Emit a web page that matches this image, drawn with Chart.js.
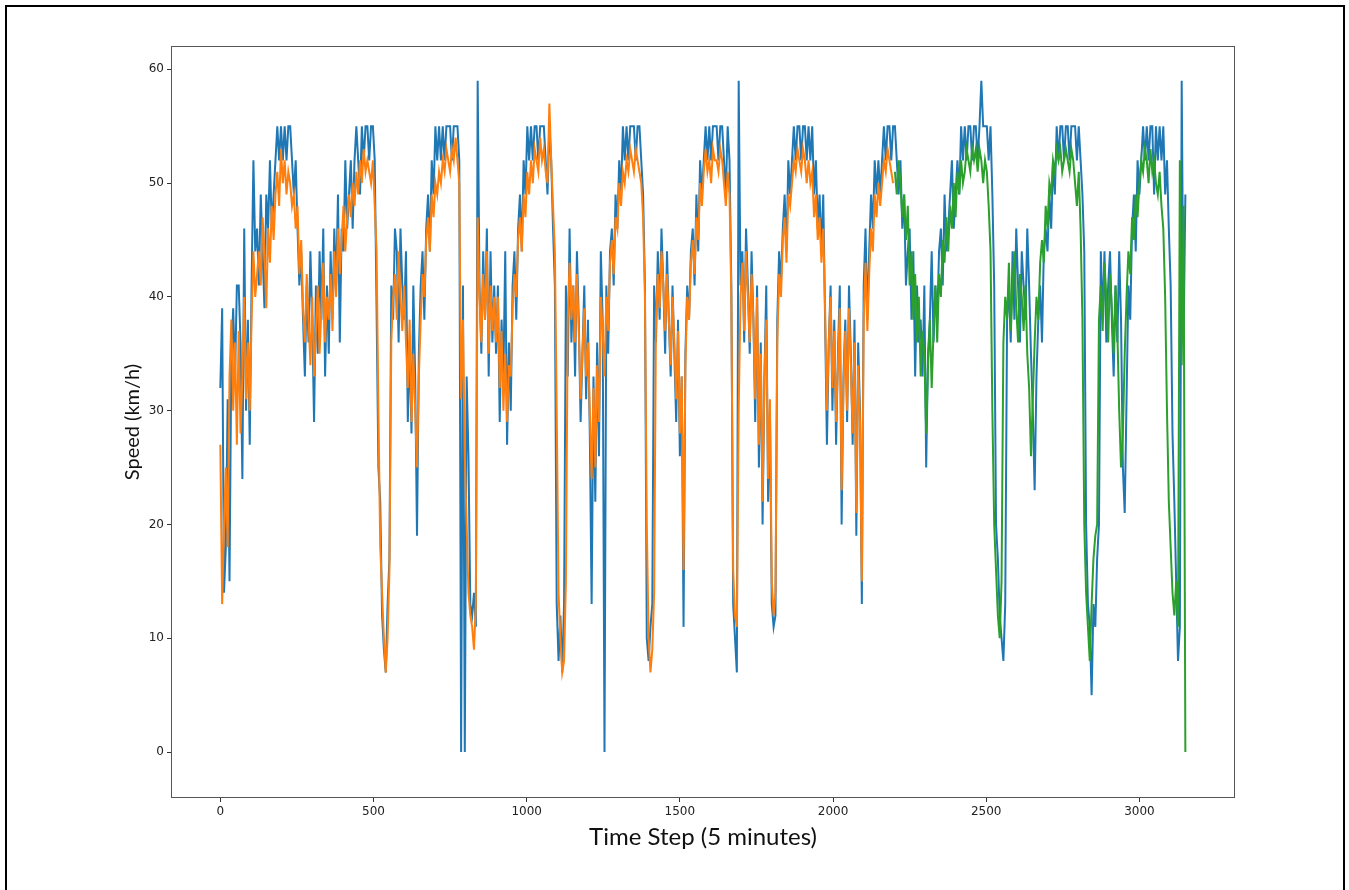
<!DOCTYPE html>
<html><head><meta charset="utf-8">
<script src="https://cdn.jsdelivr.net/npm/chart.js@4/dist/chart.umd.min.js"></script>
<style>
html,body{margin:0;padding:0;background:#fff;overflow:hidden;}
#wrap{position:relative;width:1349px;height:890px;}
#frame{position:absolute;left:5px;top:5px;width:1340px;height:900px;border:2px solid #000;box-sizing:border-box;}
canvas{position:absolute;left:0;top:0;}
</style></head><body>
<div id="wrap"><div id="frame"></div><canvas id="c" width="1349" height="890"></canvas></div>
<script>
// sampling interval (time steps) and start step of each series
const STEP = 6;
const BLUE_START = 0, ORANGE_START = 0, GREEN_START = 2202;

// observed speed (km/h), one value per STEP time steps
const blueSpeed = [
32,39,14,18,31,15,35,39,33,41, 41,36,24,46,30,38,27,41,52,44, 46,41,49,44,39,49,46,52,46,49,
52,55,52,55,52,55,52,55,55,52, 49,52,46,41,44,38,33,41,36,44, 38,29,41,35,44,38,46,33,41,35,
44,38,46,41,49,36,46,44,52,46, 49,52,46,52,55,52,49,55,52,55, 55,52,55,55,52,39,25,22,12,9,
7,13,17,41,38,46,44,36,46,41, 38,44,29,36,28,41,33,19,35,41, 44,38,46,49,44,52,49,55,52,55,
52,55,52,55,55,55,52,55,55,55, 52,0,41,0,33,26,13,12,14,11, 59,41,35,44,38,46,33,44,36,41,
35,41,29,38,33,44,27,36,30,41, 44,38,46,49,44,52,49,55,52,55, 52,55,55,52,55,55,55,52,49,55,
52,46,41,13,8,12,7,13,41,33, 46,36,41,33,44,38,29,35,41,31, 38,28,13,33,22,36,26,44,38,0,
41,35,44,46,41,49,46,52,49,55, 52,55,52,55,55,55,52,55,55,52, 49,41,10,8,11,13,41,36,44,38,
46,41,35,44,38,33,41,35,29,38, 26,33,11,35,41,38,44,46,41,49, 44,52,49,52,55,52,55,52,55,55,
55,52,55,55,52,49,55,52,41,13, 10,7,59,41,44,36,46,41,35,44, 38,29,41,25,36,20,33,41,22,30,
13,11,12,38,44,41,46,49,44,52, 49,52,55,52,55,55,52,55,55,52, 55,52,55,49,52,46,49,44,49,38,
27,36,41,30,38,27,35,41,20,33, 38,29,41,35,27,38,19,36,30,13, 41,46,38,44,49,46,52,49,52,49,
52,55,52,55,55,52,55,55,52,49, 52,46,49,41,44,46,38,44,33,41, 36,38,33,41,25,35,38,44,36,41,
38,44,46,41,49,44,46,49,52,46, 49,52,49,55,52,55,52,55,55,52, 55,55,52,55,59,55,55,55,52,55,
49,41,20,17,12,10,8,13,38,41, 36,44,38,46,41,36,44,41,38,46, 41,35,30,23,33,38,41,36,44,46,
44,49,46,52,49,55,52,55,55,52, 55,55,52,55,55,55,52,55,52,49, 44,20,13,11,5,13,11,17,20,44,
38,44,36,41,44,38,33,41,36,44, 38,25,21,31,41,38,46,49,44,52, 49,52,55,52,55,52,55,55,49,55,
52,55,52,55,49,52,46,41,28,22, 15,8,11,59,36,49
];

// prediction on the training period
const orangeSpeed = [
27,13,20,25,18,33,38,30,36,27, 37,28,33,40,31,36,30,38,44,40, 42,44,41,47,44,39,46,43,48,45,
49,51,48,53,50,52,49,51,50,48, 49,46,48,42,45,39,36,42,38,34, 40,33,37,41,35,39,43,36,40,38,
42,37,44,40,46,42,45,48,44,47, 49,47,50,48,51,49,52,50,53,51, 52,51,50,52,48,44,30,18,14,10,
7,10,16,36,40,42,38,44,40,37, 41,36,32,38,29,35,30,25,33,38, 42,40,45,47,44,49,47,50,49,51,
50,52,51,53,52,51,53,52,54,52, 50,31,38,26,20,14,12,11,9,13, 47,40,36,42,38,44,35,41,37,40,
36,40,32,37,30,35,29,34,33,39, 42,40,45,47,44,49,47,51,49,52, 50,53,52,51,54,52,53,51,50,57,
52,48,44,30,14,10,7,8,15,38, 43,38,41,36,42,37,31,35,39,33, 36,30,24,32,25,34,29,40,37,33,
40,37,43,45,42,47,46,50,48,51, 50,52,51,53,52,51,53,52,51,50, 47,40,20,10,7,9,14,38,42,39,
44,41,37,42,38,34,40,36,31,37, 28,33,16,34,40,38,43,45,42,47, 45,50,48,51,53,51,52,50,53,52,
52,51,53,52,50,48,51,49,40,16, 12,11,30,40,43,37,44,40,36,42, 38,31,40,27,35,22,33,38,24,31,
15,12,14,36,42,40,45,47,43,49, 48,50,52,51,53,52,51,53,52,50, 52,50,51,47,49,45,47,43,46,39,
30,36,40,32,37,29,34,39,23,32, 37,30,39,34,28,36,21,34,29,15, 38,43,37,42,46,44,49,47,50,48,
50,52,51,53,52,51,50
];

// prediction on the test period
const greenSpeed = [
51,49,52,50,47,49,45,48,41,44, 38,42,36,40,33,37,35,28,34,38, 32,37,41,36,42,40,45,43,47,44,
48,46,50,47,51,49,52,50,51,53, 52,51,53,52,53,51,53,52,50,52, 51,48,44,30,20,16,12,10,15,36,
40,38,43,37,41,44,39,36,42,40, 37,41,35,32,26,31,36,40,38,43, 45,43,48,46,50,49,52,51,53,52,
53,51,52,53,52,51,53,52,50,48, 51,46,38,20,14,11,8,13,17,19, 20,38,41,37,43,40,36,42,39,35,
41,37,30,25,28,35,40,44,42,47, 45,49,47,50,52,51,53,52,50,53, 51,52,50,49,51,48,46,40,30,22,
18,14,12,15,11,52,34,48,0
];

const xTicks = [0, 500, 1000, 1500, 2000, 2500, 3000];
const yTicks = [0, 10, 20, 30, 40, 50, 60];

const toPoints = (arr, start) => arr.map((v, i) => ({x: start + i * STEP, y: v}));

const boxPlugin = {
  id: 'box',
  afterDraw(chart) {
    const {ctx, chartArea: a} = chart;
    ctx.save();
    ctx.strokeStyle = '#555';
    ctx.lineWidth = 1;
    ctx.strokeRect(Math.round(a.left) + 0.5, Math.round(a.top) + 0.5,
                   Math.round(a.right - a.left) - 1, Math.round(a.bottom - a.top) - 1);
    ctx.restore();
  }
};

const tickFont = {family: 'DejaVu Sans', size: 12};
new Chart(document.getElementById('c'), {
  type: 'line',
  data: {
    datasets: [
      {data: toPoints(blueSpeed, BLUE_START), borderColor: '#1f77b4', borderWidth: 2, order: 3},
      {data: toPoints(orangeSpeed, ORANGE_START), borderColor: '#ff7f0e', borderWidth: 2, order: 2},
      {data: toPoints(greenSpeed, GREEN_START), borderColor: '#2ca02c', borderWidth: 2, order: 1}
    ]
  },
  options: {
    responsive: false,
    animation: false,
    devicePixelRatio: 1,
    elements: {point: {radius: 0}, line: {tension: 0, borderJoinStyle: 'miter', borderCapStyle: 'butt'}},
    layout: {padding: {left: 0, top: 46, right: 114, bottom: 0}},
    plugins: {legend: {display: false}, tooltip: {enabled: false}},
    scales: {
      x: {
        type: 'linear', min: -161, max: 3312,
        afterBuildTicks: s => { s.ticks = xTicks.map(v => ({value: v})); },
        afterFit: s => { s.height = 92; },
        ticks: {font: tickFont, color: '#222', padding: 3, maxRotation: 0, callback: v => String(v)},
        grid: {drawOnChartArea: false, drawTicks: true, tickLength: 4, tickColor: '#333'},
        border: {display: false},
        title: {display: true, text: 'Time Step (5 minutes)', font: {family: 'Lato', size: 24}, color: '#111', padding: {top: 0, bottom: 38}}
      },
      y: {
        type: 'linear', min: -4.04, max: 62.05,
        afterBuildTicks: s => { s.ticks = yTicks.map(v => ({value: v})); },
        afterFit: s => { s.width = 171; },
        ticks: {font: tickFont, color: '#222', padding: 3, callback: v => String(v)},
        grid: {drawOnChartArea: false, drawTicks: true, tickLength: 4, tickColor: '#333'},
        border: {display: false},
        title: {display: true, text: 'Speed (km/h)', font: {family: 'Lato', size: 20}, color: '#111', padding: {top: 121, bottom: 0}}
      }
    }
  },
  plugins: [boxPlugin]
});
</script>
</body></html>
